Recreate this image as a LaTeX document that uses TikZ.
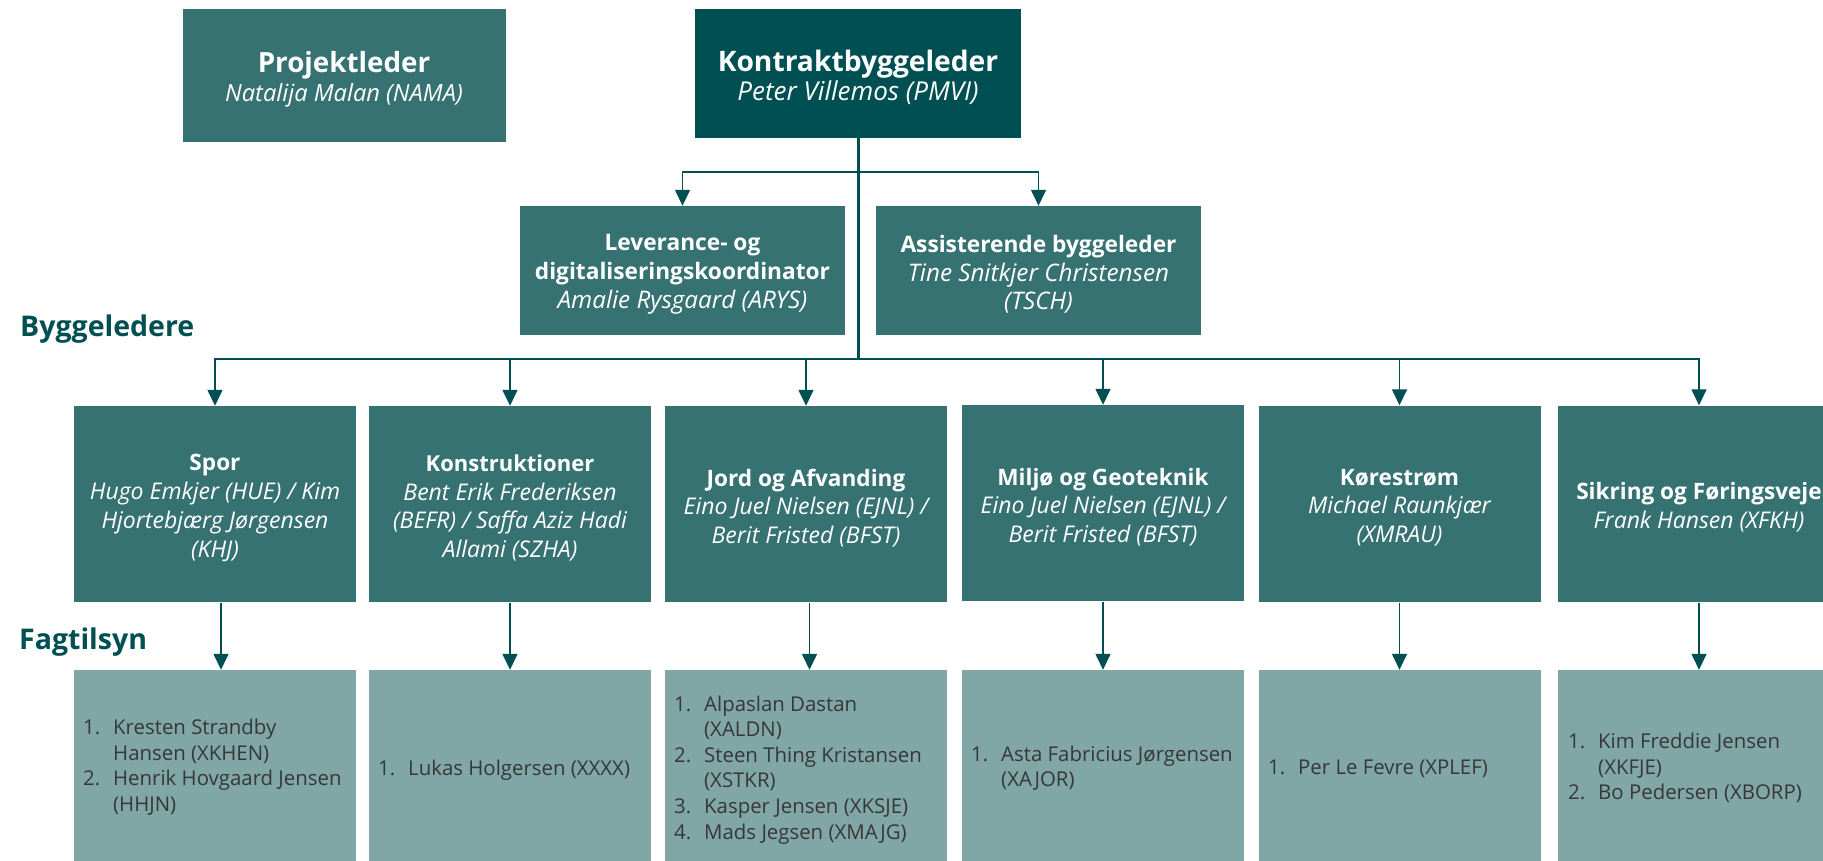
\documentclass[tikz,border=0pt]{standalone}
\usepackage{fontspec}
\setmainfont{Open Sans}
\usetikzlibrary{arrows.meta}
\definecolor{dk}{RGB}{0,79,82}
\definecolor{md}{RGB}{53,114,113}
\definecolor{lt}{RGB}{128,166,166}
\definecolor{gr}{RGB}{55,55,55}
\newcommand{\ttl}[2]{{\fontsize{#1}{28.7}\selectfont\bfseries #2}}
\newcommand{\nme}[2]{{\fontsize{#1}{28.7}\selectfont\itshape #2}}
\begin{document}
\begin{tikzpicture}[x=1pt,y=-1pt,
  box/.style={fill=md,inner sep=0pt},
  txt/.style={text=white,inner sep=0pt,align=center,font=\fontsize{21}{28.7}\selectfont},
  topbox/.style={box,minimum width=325pt,minimum height=129pt},
  lvlbox/.style={box,minimum width=282pt,minimum height=196pt},
  fagbox/.style={fill=lt,inner sep=0pt,minimum width=282pt,minimum height=198pt},
  fagtext/.style={text=gr,inner sep=0pt,anchor=west,font=\fontsize{20.4}{25.6}\selectfont},
  sect/.style={text=dk,inner sep=0pt,anchor=west,font=\fontsize{28.5}{32}\selectfont\bfseries},
  conn/.style={draw=dk,line width=1.5pt,-{Triangle[length=16pt,width=15pt]}},
  trunk/.style={draw=dk,line width=3pt}
]
\useasboundingbox (0,0) rectangle (1823,861);
\clip (0,0) rectangle (1823,861);

% top level
\node[box,minimum width=323pt,minimum height=133pt] (P) at (344,75.5) {};
\node[txt] (Pt) at ([yshift=-4pt]P.center)
  {{\fontsize{27.8}{32.5}\selectfont\bfseries Projektleder}\\{\fontsize{23.7}{32.5}\selectfont\itshape Natalija Malan (NAMA)}};
\node[box,fill=dk,minimum width=326pt,minimum height=128.5pt] (K) at (858,73.3) {};
\node[txt] (Kt) at ([yshift=-4pt]K.center)
  {{\fontsize{28.2}{32.5}\selectfont\bfseries Kontraktbyggeleder}\\{\fontsize{26}{32.5}\selectfont\itshape Peter Villemos (PMVI)}};

% second level
\node[topbox] (L) at (682.5,270.5) {};
\node[txt] (Lt) at ([yshift=-4pt]L.center)
  {\ttl{22.7}{Leverance- og}\\\ttl{22.7}{digitaliseringskoordinator}\\\nme{24.2}{Amalie Rysgaard (ARYS)}};
\node[topbox] (A) at (1038.5,270.5) {};
\node[txt] (At) at ([yshift=-4pt]A.center)
  {\ttl{22.7}{Assisterende byggeleder}\\\nme{24.2}{Tine Snitkjer Christensen}\\\nme{24.2}{(TSCH)}};

% section labels
\node[sect] (byg) at (20,329) {Byggeledere};
\node[sect] (fag) at (19,642) {Fagtilsyn};

% third level
\node[lvlbox] (B1) at (215,504) {};
\node[txt] (B1t) at ([yshift=-4pt]B1.center)
  {\ttl{22.6}{Spor}\\\nme{23}{Hugo Emkjer (HUE) / Kim}\\\nme{23}{Hjortebjærg Jørgensen}\\\nme{23}{(KHJ)}};
\node[lvlbox] (B2) at (510,504) {};
\node[txt] (B2t) at ([yshift=-4pt]B2.center)
  {\ttl{22}{Konstruktioner}\\\nme{23}{Bent Erik Frederiksen}\\\nme{23}{(BEFR) / Saffa Aziz Hadi}\\\nme{23}{Allami (SZHA)}};
\node[lvlbox] (B3) at (806,504) {};
\node[txt] (B3t) at ([yshift=-4pt]B3.center)
  {\ttl{22.6}{Jord og Afvanding}\\\nme{23}{Eino Juel Nielsen (EJNL) /}\\\nme{23}{Berit Fristed (BFST)}};
\node[lvlbox] (B4) at (1103,503) {};
\node[txt] (B4t) at ([yshift=-4pt]B4.center)
  {\ttl{22.6}{Miljø og Geoteknik}\\\nme{23}{Eino Juel Nielsen (EJNL) /}\\\nme{23}{Berit Fristed (BFST)}};
\node[lvlbox] (B5) at (1399.5,503.5) {};
\node[txt] (B5t) at ([yshift=-4pt]B5.center)
  {\ttl{22.6}{Kørestrøm}\\\nme{23}{Michael Raunkjær}\\\nme{23}{(XMRAU)}};
\node[lvlbox] (B6) at (1699,503.5) {};
\node[txt] (B6t) at ([yshift=-4pt]B6.center)
  {\ttl{22.6}{Sikring og Føringsveje}\\\nme{23}{Frank Hansen (XFKH)}};

% fourth level boxes
\node[fagbox] (F1) at (215,769) {};
\node[fagbox] (F2) at (510,769) {};
\node[fagbox] (F3) at (806,769) {};
\node[fagbox] (F4) at (1103,769) {};
\node[fagbox] (F5) at (1399.5,769) {};
\node[fagbox] (F6) at (1699,769) {};

\node[fagtext] (T1) at (83,768) {\begin{tabular}{@{}p{30pt}@{}l@{}}1.&Kresten Strandby\\&Hansen (XKHEN)\\2.&Henrik Hovgaard Jensen\\&(HHJN)\end{tabular}};
\node[fagtext] (T2) at (378,770) {\begin{tabular}{@{}p{30pt}@{}l@{}}1.&Lukas Holgersen (XXXX)\end{tabular}};
\node[fagtext] (T3) at (674,770) {\begin{tabular}{@{}p{30pt}@{}l@{}}1.&Alpaslan Dastan\\&(XALDN)\\2.&Steen Thing Kristansen\\&(XSTKR)\\3.&Kasper Jensen (XKSJE)\\4.&Mads Jegsen (XMAJG)\end{tabular}};
\node[fagtext] (T4) at (971,769) {\begin{tabular}{@{}p{30pt}@{}l@{}}1.&Asta Fabricius Jørgensen\\&(XAJOR)\end{tabular}};
\node[fagtext] (T5) at (1268,769) {\begin{tabular}{@{}p{30pt}@{}l@{}}1.&Per Le Fevre (XPLEF)\end{tabular}};
\node[fagtext] (T6) at (1568,769) {\begin{tabular}{@{}p{30pt}@{}l@{}}1.&Kim Freddie Jensen\\&(XKFJE)\\2.&Bo Pedersen (XBORP)\end{tabular}};

% connectors
\coordinate (j1) at (858,172);
\coordinate (j2) at (858,359);
\draw[trunk] (K.south) -- (j2);
\draw[conn] (K.south) -- (j1) -| (L.north);
\draw[conn] (K.south) -- (j1) -| (A.north);
\foreach \n in {B1,B2,B3,B4,B5,B6}{
  \draw[conn] (K.south) -- (j2) -| (\n.north);
}
\draw[draw=dk,line width=2pt] (j2) -- (B1.north |- j2);
\draw[draw=dk,line width=2pt] (j2) -- (B5.north |- j2);
\draw[conn] ([xshift=6pt,yshift=-1pt]B1.south) -- ([xshift=6pt]F1.north);
\draw[conn] ([yshift=-1pt]B2.south) -- (F2.north);
\draw[conn] ([xshift=3.5pt,yshift=-1pt]B3.south) -- ([xshift=3.5pt]F3.north);
\draw[conn] ([yshift=-1pt]B4.south) -- (F4.north);
\draw[conn] ([yshift=-1pt]B5.south) -- (F5.north);
\draw[conn] ([yshift=-1pt]B6.south) -- (F6.north);
\end{tikzpicture}
\end{document}
